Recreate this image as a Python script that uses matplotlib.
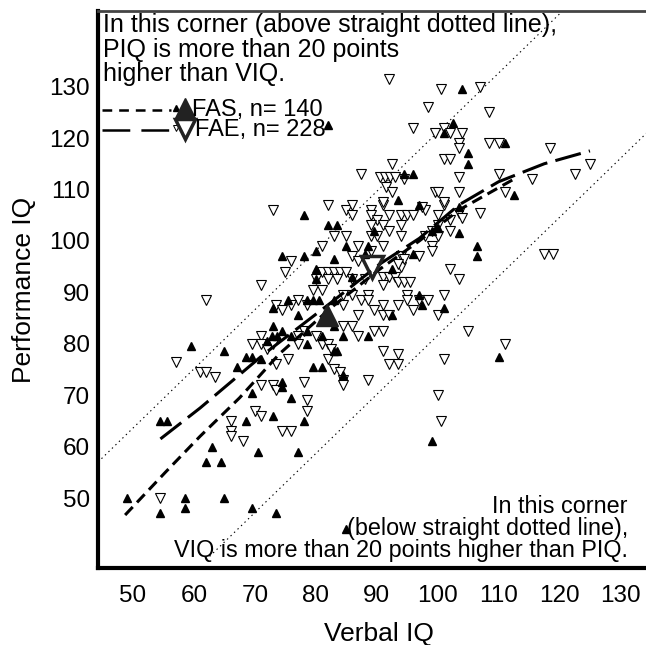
import matplotlib
matplotlib.use("Agg")
import matplotlib.pyplot as plt

plt.rcParams['font.family'] = ['Liberation Sans', 'DejaVu Sans']
plt.rcParams['lines.scale_dashes'] = False

# FAS subjects (filled triangles): verbal IQ, performance IQ
fas_x = [93.5, 97, 78, 82, 83.5, 89.5, 100, 85, 88.5, 74.5, 78, 80, 88, 83, 80, 92.5, 80, 86,
         97, 75.5, 78.5, 79.5, 80.5, 83, 73, 77, 97.5, 101, 92.5, 83, 88.5, 84.5, 73, 72.8, 73.7,
         74.5, 76, 78.5, 81, 72, 78.5, 83, 83.5, 65, 68.5, 69.5, 71, 79.5, 81, 67, 84.5, 74.5,
         74.5, 69.5, 76, 73, 68.5, 78, 63, 49, 54.5, 58.5, 58.5, 65, 69.5, 73.5, 54.5, 55.5, 62,
         64.5, 70.5, 77, 59.5, 104, 102.5, 101, 111, 105, 105, 94.5, 96, 112.5, 103.5, 106.5,
         106.5, 96, 99, 103.5, 82, 85, 110, 99]
fas_y = [108, 107, 105, 103, 103, 102, 102.5, 99, 99, 97, 97, 98, 97.5, 96.5, 94.5, 94.5, 92.5, 93,
         89.5, 88.5, 88.5, 88.5, 88.5, 88.5, 87, 85.5, 87.5, 87, 85.5, 83.5, 81.5, 81.5, 83.5, 81.5, 81.5,
         82.5, 81.5, 82.5, 81.5, 80.5, 80, 78.5, 78.5, 78.5, 77.5, 77.5, 77, 75.5, 75.5, 75.5, 74, 72.5,
         71.5, 70.5, 69.5, 66, 65, 65, 60, 50, 47, 50, 48, 50, 48, 47, 65, 65, 57,
         57, 59, 59, 79.5, 129.5, 123, 121, 119, 117, 115, 113, 113, 109, 101.5, 99,
         97, 97.5, 102, 106.5, 122.5, 44, 77.5, 61]

# FAE subjects (open triangles)
fae_x = [73, 82, 85, 86, 86, 89, 91, 98, 101, 89, 90, 92, 94, 95, 96, 100, 102, 89, 91, 94, 100,
         83, 85, 89, 90, 92, 94, 98, 99, 100, 102, 81, 87, 91, 99, 99, 76, 86, 89, 87, 94, 97, 94,
         75, 81, 82, 83, 84, 85, 91, 92, 93, 93.5, 94.5, 95.5, 80, 82, 83.5, 86, 88, 71, 79.5, 81,
         91, 84.5, 86, 88.5, 95, 95, 97, 98.5, 101, 62, 77, 87.5, 88.5, 73.5, 74.5, 76, 78.5, 84.5,
         87, 89.5, 91, 93.5, 96, 100, 91, 92, 86, 84.5, 89.5, 91, 87, 71, 78, 77, 80, 69.5, 71, 72,
         73, 77, 81, 82, 82.5, 91, 73.5, 75.5, 82, 92, 93.5, 93.5, 101, 61, 62, 63.5, 83, 84, 84.5,
         84.5, 88.5, 78, 71, 73, 73.5, 78.5, 100, 78.5, 70, 71, 66, 66, 66, 74.5, 76, 68, 54.5, 57,
         92, 100.5, 107, 98.5, 108.5, 96, 99.5, 101, 102, 104, 103.5, 103.5, 108.5, 110, 118.5, 101,
         102, 125, 92.5, 110, 122.5, 115.5, 90.5, 91.3, 92.2, 93, 94.5, 103.5, 91.5, 92.5, 99.5, 100,
         103.5, 111, 91, 97.5, 101, 103.5, 107, 104, 117.5, 119, 102, 103.5, 94.5, 93.5, 87.5,
         105, 111, 100.5]
fae_y = [106, 107, 106, 107, 105, 106, 107, 106, 107, 105, 104, 105, 105, 105, 105, 105, 104, 103, 103, 103, 103,
         101, 101, 101, 101, 102, 101, 101, 102, 101, 102, 99, 99, 99, 99, 98, 96, 97, 98, 96, 97, 97, 95,
         94, 94, 94, 94, 94, 94, 93, 93, 93, 92, 92, 92, 92.5, 92.5, 92.5, 92.5, 92.5, 91.5, 90.5, 90.5,
         91.5, 89.5, 89.5, 89.5, 89.5, 88.5, 88.5, 88.5, 89.5, 88.5, 88.5, 88.5, 88.5, 87.5, 86.5, 87.5, 87.5, 87.5,
         85.5, 86.5, 87.5, 87.5, 86.5, 85.5, 85.5, 85.5, 83.5, 83.5, 82.5, 82.5, 81.5, 81.5, 82.5, 81.5, 81.5, 80, 80, 79,
         80, 80, 80, 80, 79, 78.5, 76, 77, 77, 76, 76, 78, 77, 74.5, 74.5, 73.5, 75, 74.5, 73,
         72, 73, 72.5, 72, 72, 71, 69, 70, 67, 67, 66, 65, 63, 62, 63, 63, 61, 50, 76.5,
         131.5, 129.5, 130, 126, 125, 122, 121, 122, 121, 121, 119, 118, 119, 119, 118, 116,
         116, 115, 115, 113, 113, 112, 112.5, 112.5, 112.5, 112.5, 112, 112.5, 110.5, 109.5, 109.5, 109.5,
         109.5, 109.5, 107.5, 106.5, 107.5, 105.5, 105.5, 104.5, 97.5, 97.5, 94.5, 92.5, 96.5, 95.5, 113,
         82.5, 80, 65]

# smoothed trend curves
fas_curve_x = [48.7, 55.3, 61, 67.5, 74, 82.5, 90.5, 97, 103.5, 112.5]
fas_curve_y = [46.7, 55, 62, 69.5, 78, 87, 94.5, 100, 106, 112]
fae_curve_x = [54.5, 61, 71.5, 82.5, 90.5, 97, 103.5, 110, 117.5, 125]
fae_curve_y = [61.5, 67.5, 78, 88, 95.5, 100.5, 107, 111.5, 115, 117.5]

# group means
fas_mean = (81.9, 85.6)
fae_mean = (89.2, 94.9)

# the +/-20 point reference lines
upper_x = [44.25, 120.5]
upper_y = [57, 144.7]
lower_x = [62, 136.5]
lower_y = [38.0, 123.5]

ticks = [50, 60, 70, 80, 90, 100, 110, 120, 130]

fig = plt.figure(figsize=(6.46, 6.45), dpi=100)
ax = fig.add_axes([98 / 646, 77 / 645, 562 / 646, 557 / 645])
ax.set_xlim(44.25, 136.5)
ax.set_ylim(36.4, 144.7)

ax.plot(upper_x, upper_y, color='k', lw=0.8, ls=(0, (1, 2.5)))
ax.plot(lower_x, lower_y, color='k', lw=0.8, ls=(0, (1, 2.5)))

ax.plot(fae_x, fae_y, 'v', ms=6.5, mfc='white', mec='k', mew=0.8, ls='none', zorder=3)
ax.plot(fas_x, fas_y, '^', ms=5.5, color='k', ls='none', zorder=3)

ax.plot(fas_curve_x, fas_curve_y, color='k', lw=2.2, dashes=(8, 4.5), zorder=4)
ax.plot(fae_curve_x, fae_curve_y, color='k', lw=2.2, dashes=(19, 6), zorder=4)

ax.plot(*fas_mean, '^', ms=16, color='#222222', zorder=5)
ax.plot(*fae_mean, 'v', ms=16, mfc='none', mec='#222222', mew=2.5, zorder=5)

# legend drawn by hand, as in the original
tr = ax.transAxes
ax.plot([0.007, 0.13], [0.822, 0.822], transform=tr, color='k', lw=1.8, dashes=(7, 5))
ax.plot(0.139, 0.826, '^', ms=4, color='k', transform=tr)
ax.plot(0.155, 0.826, '^', ms=14, color='#222222', transform=tr)
ax.text(0.167, 0.822, 'FAS, n= 140', transform=tr, fontsize=17, va='center')
ax.plot([0.007, 0.128], [0.786, 0.786], transform=tr, color='k', lw=1.8, dashes=(20, 8))
ax.plot(0.139, 0.79, 'v', ms=5, mfc='white', mec='k', mew=0.7, transform=tr)
ax.plot(0.155, 0.788, 'v', ms=14, mfc='none', mec='#222222', mew=2.5, transform=tr)
ax.text(0.172, 0.786, 'FAE, n= 228', transform=tr, fontsize=17, va='center')

ax.text(0.009, 0.996, 'In this corner (above straight dotted line),\nPIQ is more than 20 points\nhigher than VIQ.',
        transform=tr, fontsize=18, va='top', ha='left', linespacing=1.02)
ax.text(0.943, 0.011, 'In this corner\n(below straight dotted line),\nVIQ is more than 20 points higher than PIQ.',
        transform=tr, fontsize=16.8, va='bottom', ha='right', multialignment='right', linespacing=0.93)

ax.set_xticks(ticks)
ax.set_yticks(ticks)
ax.tick_params(axis='both', length=0, labelsize=17.5)
ax.tick_params(axis='x', pad=12)
ax.tick_params(axis='y', pad=6)
ax.set_xlabel('Verbal IQ', fontsize=19, labelpad=11)
ax.set_ylabel('Performance IQ', fontsize=19, labelpad=9)

ax.spines['left'].set_linewidth(3)
ax.spines['bottom'].set_linewidth(3)
ax.spines['top'].set_linewidth(2)
ax.spines['top'].set_color('#444444')
ax.spines['right'].set_visible(False)

fig.savefig('out.png', dpi=100)
